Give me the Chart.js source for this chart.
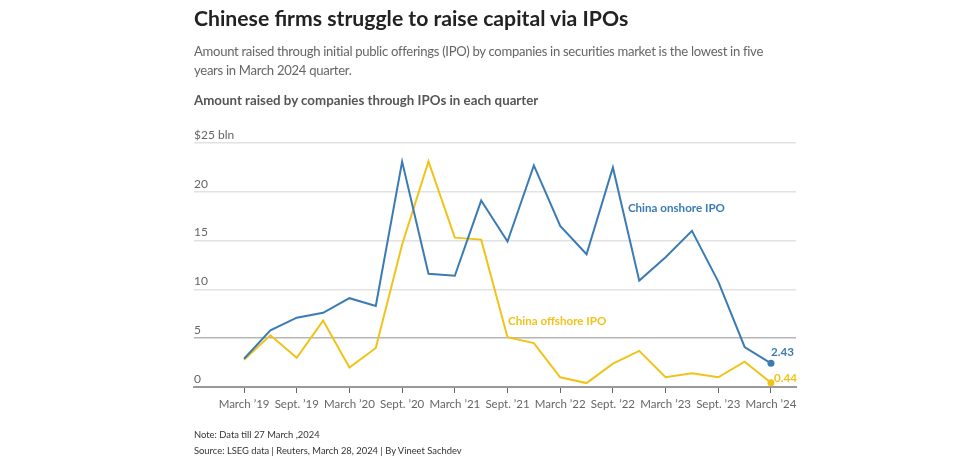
<!DOCTYPE html>
<html lang="en">
<head>
    <meta charset="UTF-8">
    <title>Chinese firms struggle to raise capital via IPOs</title>
    <script src="https://cdn.jsdelivr.net/npm/chart.js"></script>
    <style>
        body { margin: 0; width: 956px; height: 461px; background: #fff; font-family: Lato, sans-serif; overflow: hidden; }
        .txt { position: absolute; left: 194px; white-space: nowrap; }
        #title { top: 8px; font-size: 21.2px; line-height: 21px; font-weight: 700; color: #222; }
        #subtitle { top: 42px; font-size: 13.1px; line-height: 19px; letter-spacing: -0.3px; color: #666; }
        #heading { top: 94px; font-size: 13.3px; line-height: 13px; font-weight: 700; color: #555; }
        #note { top: 427px; font-size: 9.4px; line-height: 16px; color: #333; }
        #chartBox { position: absolute; left: 0; top: 0; width: 956px; height: 461px; }
    </style>
</head>
<body>
    <div id="chartBox"><canvas id="ipoChart" width="956" height="461"></canvas></div>
    <div class="txt" id="title">Chinese firms struggle to raise capital via IPOs</div>
    <div class="txt" id="subtitle">Amount raised through initial public offerings (IPO) by companies in securities market is the lowest in five<br>years in March 2024 quarter.</div>
    <div class="txt" id="heading">Amount raised by companies through IPOs in each quarter</div>
    <div class="txt" id="note">Note: Data till 27 March ,2024<br>Source: LSEG data | Reuters, March 28, 2024 | By Vineet Sachdev</div>

    <script>
        // quarters, March 2019 .. March 2024
        const quarters = ['Mar 2019', 'Jun 2019', 'Sep 2019', 'Dec 2019', 'Mar 2020', 'Jun 2020', 'Sep 2020',
            'Dec 2020', 'Mar 2021', 'Jun 2021', 'Sep 2021', 'Dec 2021', 'Mar 2022', 'Jun 2022', 'Sep 2022',
            'Dec 2022', 'Mar 2023', 'Jun 2023', 'Sep 2023', 'Dec 2023', 'Mar 2024'];
        // $ bln raised
        const onshore = [2.9, 5.8, 7.1, 7.6, 9.1, 8.3, 23.1, 11.6, 11.4, 19.1, 14.9, 22.7, 16.5, 13.6, 22.5,
            10.9, 13.3, 16.0, 10.8, 4.1, 2.43];
        const offshore = [2.8, 5.3, 3.0, 6.8, 2.0, 4.0, 14.6, 23.1, 15.3, 15.1, 5.1, 4.5, 1.0, 0.4, 2.4,
            3.7, 1.0, 1.4, 1.0, 2.6, 0.44];
        const tickLabels = ['March \u201919', 'Sept. \u201919', 'March \u201920', 'Sept. \u201920', 'March \u201921',
            'Sept. \u201921', 'March \u201922', 'Sept. \u201922', 'March \u201923', 'Sept. \u201923', 'March \u201924'];
        const yTicks = [0, 5, 10, 15, 20, 25];
        const seriesNames = ['China onshore IPO', 'China offshore IPO'];

        const BLUE = '#3b7bb4';
        const YELLOW = '#f0c31a';
        const FONT = 'Lato, sans-serif';

        const last = quarters.length - 1;
        const toPoints = arr => arr.map((v, i) => ({ x: i, y: v }));

        // direct labels instead of a legend
        const labelPlugin = {
            id: 'seriesLabels',
            afterDatasetsDraw(chart) {
                const { ctx, scales: { x, y } } = chart;
                ctx.save();
                ctx.font = 'bold 11.6px ' + FONT;
                ctx.textBaseline = 'middle';
                ctx.textAlign = 'left';

                ctx.fillStyle = BLUE;
                ctx.fillText(seriesNames[0], x.getPixelForValue(14.57), y.getPixelForValue(18.3));
                ctx.fillText(onshore[last].toFixed(2), x.getPixelForValue(last), y.getPixelForValue(onshore[last]) - 11);

                ctx.fillStyle = YELLOW;
                ctx.fillText(seriesNames[1], x.getPixelForValue(10.02), y.getPixelForValue(6.73));
                ctx.fillText(offshore[last].toFixed(2), x.getPixelForValue(last) + 3, y.getPixelForValue(offshore[last]) - 4);
                ctx.restore();
            }
        };

        const lastDot = ctx => ctx.dataIndex === last ? 3.5 : 0;

        new Chart(document.getElementById('ipoChart'), {
            type: 'line',
            data: {
                datasets: [
                    { label: seriesNames[0], data: toPoints(onshore), borderColor: BLUE, backgroundColor: BLUE,
                      borderWidth: 2, pointRadius: lastDot, pointBorderWidth: 0, tension: 0 },
                    { label: seriesNames[1], data: toPoints(offshore), borderColor: YELLOW, backgroundColor: YELLOW,
                      borderWidth: 2, pointRadius: lastDot, pointBorderWidth: 0, tension: 0 }
                ]
            },
            options: {
                responsive: false,
                animation: false,
                layout: { padding: { left: 194, right: 160, top: 143, bottom: 44 } },
                plugins: { legend: { display: false }, tooltip: { enabled: false } },
                scales: {
                    x: {
                        type: 'linear', min: -1.9, max: 20.95,
                        afterBuildTicks: s => { s.ticks = tickLabels.map((_, i) => ({ value: i * 2 })); },
                        afterFit: s => { s.height = 30; },
                        ticks: { callback: v => tickLabels[v / 2], color: '#666', font: { family: FONT, size: 11.5 },
                                 maxRotation: 0, autoSkip: false, padding: 4 },
                        grid: { drawOnChartArea: false, tickLength: 6, color: '#666', lineWidth: 1 },
                        border: { color: '#999', width: 2 }
                    },
                    y: {
                        min: 0, max: 25,
                        afterBuildTicks: s => { s.ticks = yTicks.map(v => ({ value: v })); },
                        afterFit: s => { s.width = 0; },
                        ticks: { mirror: true, padding: 0, labelOffset: -8, color: '#666',
                                 font: { family: FONT, size: 12 },
                                 callback: v => v === 25 ? '$25 bln' : v },
                        grid: { drawTicks: false, lineWidth: 1.5,
                                color: c => c.tick.value === 0 ? 'rgba(0,0,0,0)' : (c.tick.value === 5 ? '#b5b5b5' : '#e2e2e2') },
                        border: { display: false }
                    }
                }
            },
            plugins: [labelPlugin]
        });
    </script>
</body>
</html>
